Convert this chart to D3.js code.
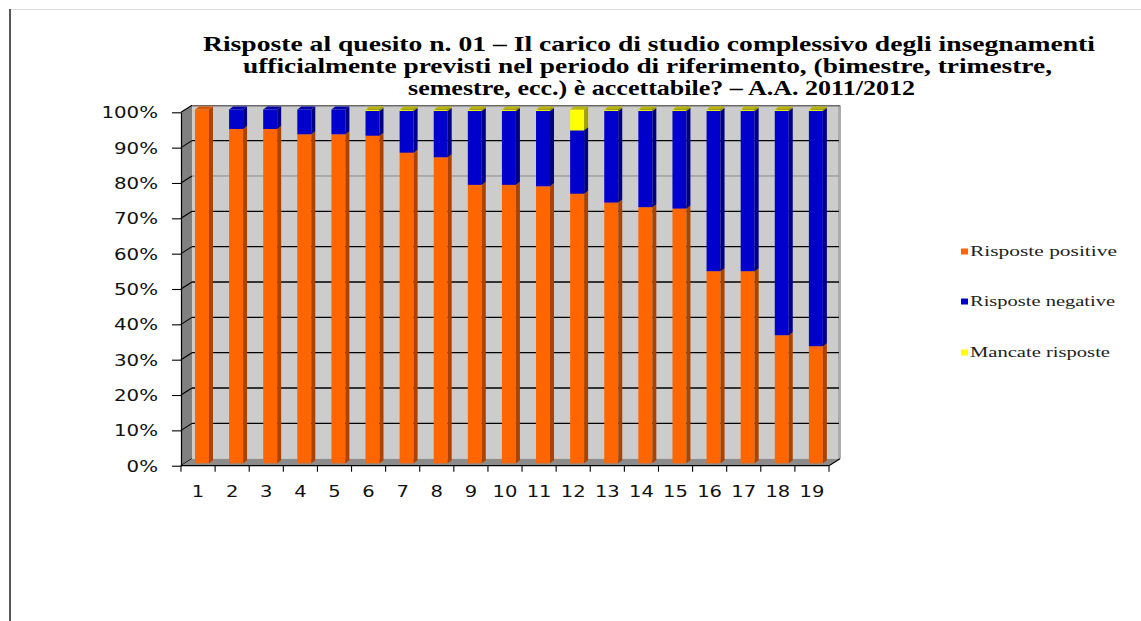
<!DOCTYPE html>
<html><head><meta charset="utf-8">
<script src="https://cdn.jsdelivr.net/npm/d3@7"></script>
<style>body{margin:0;background:#fff}svg{display:block}</style>
</head><body>
<svg id="c" width="1141" height="621"></svg>
<script>
const categories = ['1','2','3','4','5','6','7','8','9','10','11','12','13','14','15','16','17','18','19'];
const positive = [100, 94.5, 94.5, 93.0, 93.0, 92.6, 87.8, 86.5, 78.7, 78.7, 78.3, 76.2, 73.7, 72.4, 72.0, 54.3, 54.3, 36.2, 33.1];
const negative = [0, 5.5, 5.5, 7.0, 7.0, 7.0, 11.8, 13.1, 20.9, 20.9, 21.3, 17.9, 25.9, 27.2, 27.6, 45.3, 45.3, 63.4, 66.5];
const missing  = [0, 0, 0, 0, 0, 0.4, 0.4, 0.4, 0.4, 0.4, 0.4, 5.9, 0.4, 0.4, 0.4, 0.4, 0.4, 0.4, 0.4];
const seriesKeys = ['positive','negative','missing'];
const legendLabels = ['Risposte positive','Risposte negative','Mancate risposte'];
const yTicks = [0,10,20,30,40,50,60,70,80,90,100];
const yTickLabels = ['0%','10%','20%','30%','40%','50%','60%','70%','80%','90%','100%'];
const titleLines = [
  'Risposte al quesito n. 01 \u2013 Il carico di studio complessivo degli insegnamenti',
  'ufficialmente previsti nel periodo di riferimento, (bimestre, trimestre,',
  'semestre, ecc.) \u00e8 accettabile? \u2013 A.A. 2011/2012'
];

const colors = {
  positive: {front:'#FF6600', side:'#A84400', top:'#D95500'},
  negative: {front:'#0000CC', side:'#000080', top:'#0000AA'},
  missing:  {front:'#FFFF00', side:'#A0A000', top:'#B8B400'}
};

const rows = categories.map((c,i)=>({cat:c, positive:positive[i], negative:negative[i], missing:missing[i]}));
const stacked = d3.stack().keys(seriesKeys)(rows);

const svg = d3.select('#c');

function stretch(sel, k){
  sel.each(function(){
    const L = this.getComputedTextLength();
    this.setAttribute('textLength', L*k);
    this.setAttribute('lengthAdjust','spacingAndGlyphs');
  });
}
function fitTo(sel, w){
  sel.attr('textLength', w).attr('lengthAdjust','spacingAndGlyphs');
}

// outer frame
svg.append('line').attr('x1',10).attr('y1',9.5).attr('x2',1141).attr('y2',9.5).attr('stroke','#dcdcdc').attr('stroke-width',1.2);
svg.append('line').attr('x1',10).attr('y1',9).attr('x2',10).attr('y2',621).attr('stroke','#000').attr('stroke-width',1.3);

// geometry
const plotLeft = 181, plotRight = 829;
const DX = 11, DY = -7;
const x = d3.scaleBand().domain(categories).range([plotLeft, plotRight]).padding(0);
const bw = x.bandwidth();
const yF = d3.scaleLinear().domain([0,100]).range([465.7, 112.3]);
const yBar = d3.scaleLinear().domain([0,100]).range([463.3, 109.5]);

const g = svg.append('g');
const line = d3.line();

// left wall
g.append('path').attr('d', line([[plotLeft,yF(100)],[plotLeft+DX,yF(100)+DY],[plotLeft+DX,yF(0)+DY],[plotLeft,yF(0)]])+'Z')
  .attr('fill','#808080');
// back wall
g.append('rect').attr('x',plotLeft+DX).attr('y',yF(100)+DY).attr('width',(plotRight+DX)-(plotLeft+DX)).attr('height',yF(0)-yF(100))
  .attr('fill','#cccccc');
// right shadow
g.append('rect').attr('x',plotRight+DX-2).attr('y',yF(100)+DY).attr('width',3).attr('height',yF(0)-yF(100))
  .attr('fill','#ababab');
// back gridlines
yTicks.filter(v=>v>0 && v<100).forEach(v=>{
  g.append('line').attr('x1',plotLeft+DX).attr('x2',plotRight+DX-1).attr('y1',yF(v)+DY).attr('y2',yF(v)+DY)
    .attr('stroke', v===80 ? '#8a8a8a' : '#000').attr('stroke-width', v===80 ? 1 : 1.3);
});
// side diagonals
yTicks.forEach(v=>{
  g.append('line').attr('x1',plotLeft).attr('y1',yF(v)).attr('x2',plotLeft+DX).attr('y2',yF(v)+DY)
    .attr('stroke','#000').attr('stroke-width',1.1);
});
// top edge
g.append('line').attr('x1',plotLeft+DX).attr('x2',plotRight+DX).attr('y1',yF(100)+DY+0.5).attr('y2',yF(100)+DY+0.5)
  .attr('stroke','#6a6a6a').attr('stroke-width',1.5);
// floor
g.append('path').attr('d', line([[plotLeft,yF(0)],[plotRight,yF(0)],[plotRight+DX,yF(0)+DY],[plotLeft+DX,yF(0)+DY]])+'Z')
  .attr('fill','#8c8c8c');

// bars
const faceW = bw*0.41, sideW = 4, topH = 3;
stacked.forEach(s=>{
  const col = colors[s.key];
  s.forEach(d=>{
    const v0 = d[0], v1 = d[1];
    if (v1 - v0 <= 0) return;
    const xl = x(d.data.cat) + bw*0.41, xr = xl + faceW;
    const yt = yBar(v1), yb = yBar(v0);
    g.append('rect').attr('x',xl).attr('y',yt).attr('width',faceW).attr('height',yb-yt).attr('fill',col.front);
    g.append('path').attr('d', line([[xr,yt],[xr+sideW,yt-topH],[xr+sideW,yb-topH],[xr,yb]])+'Z').attr('fill',col.side);
    g.append('path').attr('d', line([[xl,yt],[xl+sideW,yt-topH],[xr+sideW,yt-topH],[xr,yt]])+'Z').attr('fill',col.top);
  });
});

// front floor edge
g.append('path').attr('d', line([[plotLeft,yF(0)],[plotRight,yF(0)],[plotRight+DX,yF(0)+DY]]))
  .attr('fill','none').attr('stroke','#000').attr('stroke-width',1.2);

// y axis
const yAxis = d3.axisLeft(yF).tickValues(yTicks).tickSize(9).tickSizeOuter(0).tickPadding(14)
  .tickFormat((d,i)=>yTickLabels[i]);
const ya = svg.append('g').attr('transform',`translate(${plotLeft},0)`).call(yAxis);
ya.select('.domain').attr('stroke','#000').attr('stroke-width',1.2);
ya.selectAll('.tick line').attr('stroke','#000').attr('stroke-width',1.1);
ya.selectAll('.tick text').attr('font-family','DejaVu Sans').attr('font-size',15).attr('fill','#111').attr('dy','0.36em');
stretch(ya.selectAll('.tick text'), 1.32);

// x axis ticks at band boundaries
const bounds = categories.map(c=>x(c)).concat([plotRight]);
svg.append('g').selectAll('line').data(bounds).join('line')
  .attr('x1',d=>d).attr('x2',d=>d).attr('y1',yF(0)).attr('y2',yF(0)+6)
  .attr('stroke','#000').attr('stroke-width',1.1);
const xl = svg.append('g').selectAll('text').data(categories).join('text')
  .attr('x',d=>x(d)+bw/2).attr('y',497).attr('text-anchor','middle')
  .attr('font-family','DejaVu Sans').attr('font-size',15).attr('fill','#111').text(d=>d);
stretch(xl, 1.3);

// title
const titleX = [203, 243, 408], titleW = [892, 809, 507], titleY = [51, 73, 95];
titleLines.forEach((t,i)=>{
  const tt = svg.append('text').attr('x',titleX[i]).attr('y',titleY[i])
    .attr('font-family','Liberation Serif').attr('font-weight','bold').attr('font-size',21)
    .attr('fill','#000').text(t);
  fitTo(tt, titleW[i]);
});

// legend
const legY = [251.5, 301.5, 352.5];
const legW = [147, 145, 140];
seriesKeys.forEach((k,i)=>{
  svg.append('rect').attr('x',961).attr('y',legY[i]-3).attr('width',7).attr('height',6).attr('fill',colors[k].front);
  const t = svg.append('text').attr('x',970).attr('y',legY[i]+4.5)
    .attr('font-family','Liberation Serif').attr('font-size',15).attr('fill','#222').text(legendLabels[i]);
  fitTo(t, legW[i]);
});
</script>
</body></html>
